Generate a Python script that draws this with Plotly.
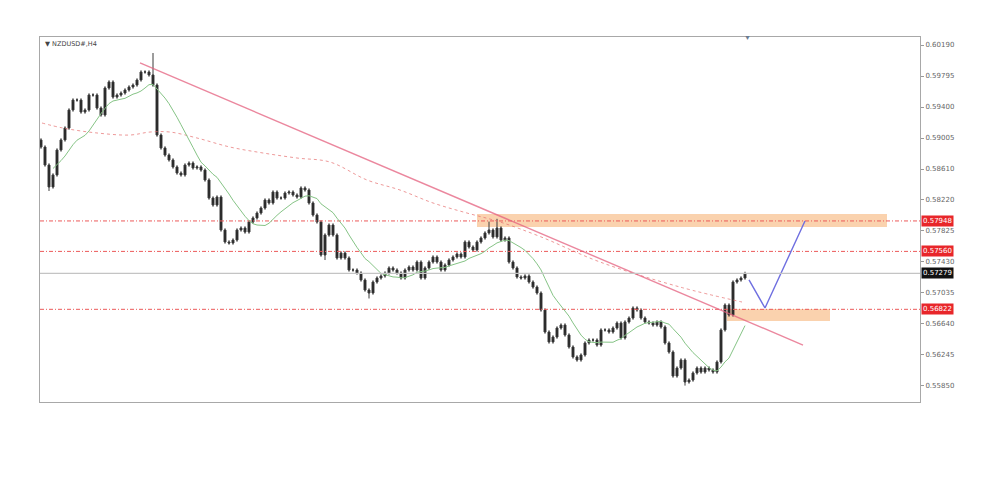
import plotly.graph_objects as go
import pandas as pd

# ---------------- data ----------------
TITLE = "▼ NZDUSD#,H4"

CLOSE = [
    0.58890, 0.58661, 0.58381, 0.58534, 0.58852, 0.58980, 0.59132, 0.59362, 0.59489, 0.59489,
    0.59336, 0.59362, 0.59553, 0.59553, 0.59387, 0.59298, 0.59642, 0.59719, 0.59527, 0.59553,
    0.59578, 0.59617, 0.59655, 0.59680, 0.59744, 0.59846, 0.59846, 0.59808, 0.59680, 0.59043,
    0.58878, 0.58788, 0.58725, 0.58636, 0.58559, 0.58534, 0.58661, 0.58686, 0.58623, 0.58636,
    0.58597, 0.58470, 0.58240, 0.58151, 0.58253, 0.57833, 0.57680, 0.57667, 0.57705, 0.57833,
    0.57858, 0.57807, 0.57935, 0.57986, 0.58049, 0.58113, 0.58215, 0.58177, 0.58317, 0.58240,
    0.58240, 0.58304, 0.58317, 0.58279, 0.58253, 0.58368, 0.58342, 0.58177, 0.58024, 0.57935,
    0.57514, 0.57769, 0.57896, 0.57769, 0.57476, 0.57540, 0.57476, 0.57323, 0.57323, 0.57285,
    0.57196, 0.57068, 0.57030, 0.57170, 0.57221, 0.57247, 0.57285, 0.57349, 0.57323, 0.57285,
    0.57221, 0.57323, 0.57361, 0.57323, 0.57425, 0.57221, 0.57349, 0.57425, 0.57489, 0.57425,
    0.57323, 0.57387, 0.57451, 0.57489, 0.57527, 0.57489, 0.57680, 0.57616, 0.57578, 0.57680,
    0.57731, 0.57795, 0.57833, 0.57744, 0.57858, 0.57705, 0.57731, 0.57425, 0.57349, 0.57234,
    0.57221, 0.57247, 0.57170, 0.57106, 0.57030, 0.56813, 0.56533, 0.56406, 0.56469, 0.56584,
    0.56622, 0.56495, 0.56342, 0.56215, 0.56176, 0.56240, 0.56393, 0.56431, 0.56431, 0.56367,
    0.56559, 0.56559, 0.56533, 0.56584, 0.56648, 0.56457, 0.56661, 0.56711, 0.56839, 0.56813,
    0.56711, 0.56661, 0.56648, 0.56622, 0.56661, 0.56597, 0.56393, 0.56278, 0.55972, 0.56074,
    0.56176, 0.55896, 0.55921, 0.56011, 0.56074, 0.56023, 0.56074, 0.56049, 0.56023, 0.56151,
    0.56559, 0.56877, 0.56750, 0.57170, 0.57196, 0.57221, 0.57279,
]
FIRST_OPEN = 0.58980
WICK = 0.00022                      # typical wick length
SPECIAL_HIGHS = {28: 0.60088, 114: 0.57975, 112: 0.57940}
SPECIAL_LOWS = {2: 0.58330, 71: 0.57450, 82: 0.56960, 161: 0.55850}

MA_PERIOD = 12

# long moving average : candle index, price
LONG_MA_IDX = [0.25, 5.5, 14, 22.25, 27.25, 32.25, 39, 47.25, 55.5, 64, 72.25, 81.5,
               89.75, 98, 106.5, 114.75, 124.75, 139.75, 159.75, 175.25]
LONG_MA_VAL = [0.59196, 0.59132, 0.59069, 0.59043, 0.59081, 0.59081, 0.59005, 0.58890,
               0.58814, 0.58750, 0.58699, 0.58470, 0.58342, 0.58177, 0.58049, 0.57935,
               0.57750, 0.57425, 0.57106, 0.56915]

TREND_IDX = [24.75, 190.5]
TREND_VAL = [0.59961, 0.56367]

LEVELS_RED = [0.57948, 0.57560, 0.56822]
CURRENT = 0.57279

ZONE_UP = dict(x0=109, x1=211.5, y0=0.57871, y1=0.58037)
ZONE_DN = dict(x0=171.5, x1=197.25, y0=0.56673, y1=0.56826)

PATH_IDX = [177, 181, 191]
PATH_VAL = [0.57196, 0.56839, 0.57947]

Y_TICKS = [0.60190, 0.59795, 0.59400, 0.59005, 0.58610, 0.58220, 0.57825,
           0.57430, 0.57035, 0.56640, 0.56245, 0.55850]
Y_RANGE = [0.55641, 0.60292]
X_RANGE = [-0.25, 219.75]

# ---------------- build ----------------
N = len(CLOSE)
IDX = list(range(N))
OPEN = [FIRST_OPEN] + CLOSE[:-1]
HIGH = [SPECIAL_HIGHS.get(i, max(o, c) + WICK) for i, (o, c) in enumerate(zip(OPEN, CLOSE))]
LOW = [SPECIAL_LOWS.get(i, min(o, c) - WICK) for i, (o, c) in enumerate(zip(OPEN, CLOSE))]
MA = pd.Series(CLOSE).rolling(MA_PERIOD, min_periods=4).mean()

fig = go.Figure()

# zones
for z in (ZONE_UP, ZONE_DN):
    fig.add_shape(type="rect", xref="x", yref="y", x0=z["x0"], x1=z["x1"],
                  y0=z["y0"], y1=z["y1"], fillcolor="rgba(246,180,120,0.6)",
                  line=dict(width=0), layer="below")

# horizontal levels
for v in LEVELS_RED:
    fig.add_scatter(x=[X_RANGE[0], X_RANGE[1]], y=[v, v], mode="lines",
                    line=dict(color="#ec5a5a", width=1, dash="4px,2px,1px,2px"),
                    hoverinfo="skip")
fig.add_shape(type="line", xref="x domain", yref="y", x0=0, x1=1, y0=CURRENT, y1=CURRENT,
              line=dict(color="#c4c4c4", width=1.2))

# long MA
fig.add_trace(go.Scatter(x=LONG_MA_IDX, y=LONG_MA_VAL, mode="lines",
                         line=dict(color="rgba(230,110,110,0.7)", width=1, dash="dot", shape="spline"),
                         hoverinfo="skip"))
# trendline
fig.add_trace(go.Scatter(x=TREND_IDX, y=TREND_VAL, mode="lines",
                         line=dict(color="rgba(228,95,125,0.75)", width=1.4), hoverinfo="skip"))

# candles
fig.add_trace(go.Candlestick(
    x=IDX, open=OPEN, high=HIGH, low=LOW, close=CLOSE,
    increasing=dict(line=dict(color="#3a3a3a", width=1), fillcolor="#1a1a1a"),
    decreasing=dict(line=dict(color="#3a3a3a", width=1), fillcolor="#1a1a1a"),
    whiskerwidth=0,
))

# short MA
fig.add_trace(go.Scatter(x=IDX, y=MA, mode="lines",
                         line=dict(color="#86c486", width=1), hoverinfo="skip"))

# projected path
fig.add_trace(go.Scatter(x=PATH_IDX, y=PATH_VAL, mode="lines",
                         line=dict(color="#6f6fe0", width=1.4), hoverinfo="skip"))

# price labels
for v in LEVELS_RED:
    fig.add_annotation(x=1, xref="paper", xanchor="left", xshift=1, y=v, yref="y",
                       text=f"{v:.5f}", showarrow=False, bgcolor="#e8262a",
                       font=dict(color="white", size=7, family="DejaVu Sans"), borderpad=1)
fig.add_annotation(x=1, xref="paper", xanchor="left", xshift=1, y=CURRENT, yref="y",
                   text=f"{CURRENT:.5f}", showarrow=False, bgcolor="#111111",
                   font=dict(color="white", size=7, family="DejaVu Sans"), borderpad=1)

fig.add_annotation(x=0, xref="paper", y=1, yref="paper", xanchor="left", yanchor="top",
                   xshift=3, yshift=-1, text=TITLE, showarrow=False,
                   font=dict(color="#444", size=6.5, family="DejaVu Sans"))
fig.add_annotation(x=N - 0.5, xref="x", y=1, yref="paper", yanchor="middle",
                   text="▼", showarrow=False, font=dict(color="#6a7a90", size=7))

fig.update_layout(
    width=1000, height=488,
    margin=dict(l=32, r=88, t=29, b=94),
    paper_bgcolor="white", plot_bgcolor="white",
    showlegend=False,
    xaxis=dict(range=X_RANGE, showgrid=False, showticklabels=False, zeroline=False,
               showline=True, mirror=True, linecolor="#a8a8a8", linewidth=1,
               rangeslider=dict(visible=False), ticks=""),
    yaxis=dict(range=Y_RANGE, side="right", showgrid=False, zeroline=False,
               tickvals=Y_TICKS, ticktext=[f"{v:.5f}" for v in Y_TICKS],
               ticks="outside", ticklen=3, tickcolor="#999",
               tickfont=dict(size=7, color="#666", family="DejaVu Sans"),
               showline=True, mirror=True, linecolor="#a8a8a8", linewidth=1),
)

fig.write_html("out.html")
